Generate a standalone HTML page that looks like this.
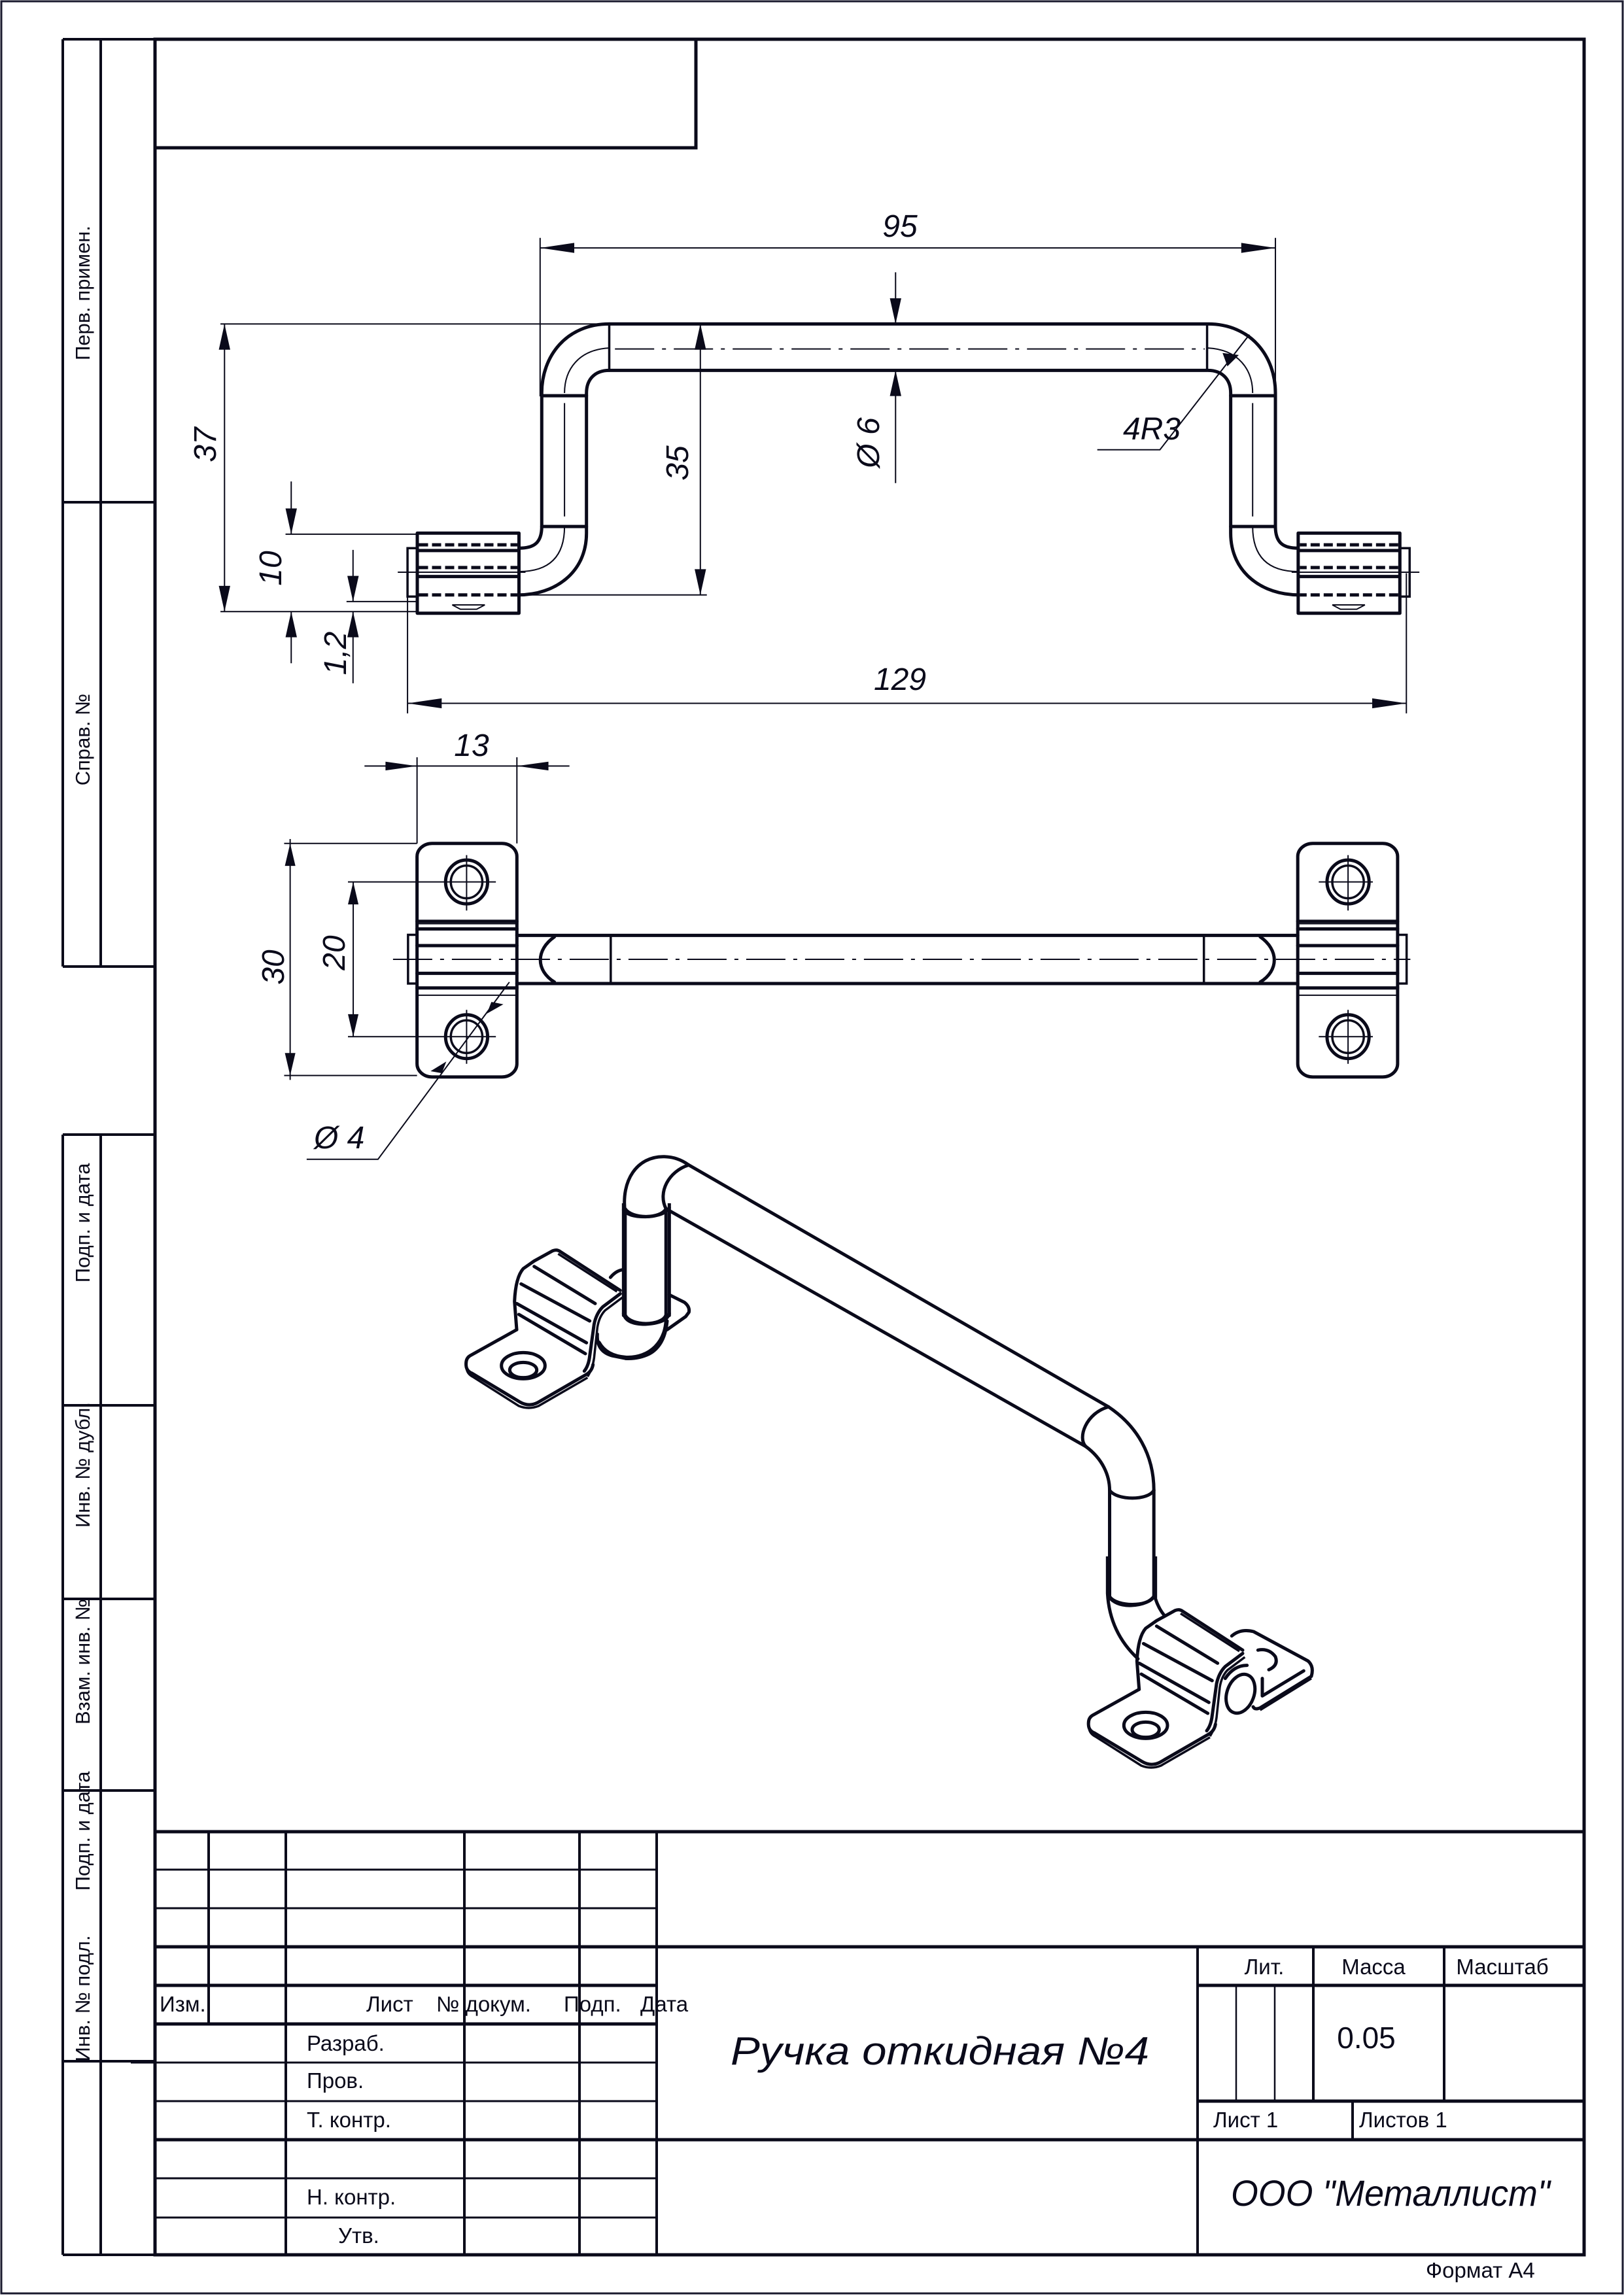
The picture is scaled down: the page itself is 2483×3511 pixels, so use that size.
<!DOCTYPE html>
<html><head><meta charset="utf-8">
<style>
html,body{margin:0;padding:0;background:#fff;}
svg{display:block;}
.k{stroke:#0a0a1a;fill:none;stroke-width:5;vector-effect:non-scaling-stroke;stroke-linecap:round;stroke-linejoin:round}
.m{stroke:#0a0a1a;fill:none;stroke-width:3.5;vector-effect:non-scaling-stroke}
.t{stroke:#0a0a1a;fill:none;stroke-width:2;vector-effect:non-scaling-stroke}
.d{stroke:#0a0a1a;fill:none;stroke-width:2;vector-effect:non-scaling-stroke;stroke-dasharray:60 12 6 12}
.kd{stroke:#0a0a1a;fill:none;stroke-width:5;vector-effect:non-scaling-stroke;stroke-dasharray:14 6}
.a{fill:#0a0a1a;stroke:none}
text{font-family:"Liberation Sans",sans-serif;fill:#0a0a1a}
.i{font-style:italic}
</style></head>
<body>
<svg width="2483" height="3511" viewBox="0 0 2483 3511" xmlns="http://www.w3.org/2000/svg">
<rect x="0" y="0" width="2483" height="3511" fill="#fff"/>
<rect x="2" y="2" width="2479" height="3505" fill="none" stroke="#1a1a2e" stroke-width="3"/>
<!-- main frame -->
<rect x="237" y="60" width="2185" height="3388" fill="none" stroke="#0a0a1a" stroke-width="5"/>
<rect x="237" y="60" width="827" height="166" fill="none" stroke="#0a0a1a" stroke-width="5"/>
<!-- left stamp -->
<g stroke="#0a0a1a" stroke-width="4" fill="none">
<path d="M96,60 H237 M96,60 V1478 M154,60 V1478 M96,768 H237 M96,1478 H237"/>
<path d="M96,1735 H237 M96,1735 V3448 M154,1735 V3448 M96,2149 H237 M96,2445 H237 M96,2738 H237 M96,3152 H237 M96,3448 H237"/>
</g>
<g font-size="31">
<text transform="translate(137,448) rotate(-90)" text-anchor="middle">Перв. примен.</text>
<text transform="translate(137,1131) rotate(-90)" text-anchor="middle">Справ. №</text>
<text transform="translate(137,1870) rotate(-90)" text-anchor="middle">Подп. и дата</text>
<text transform="translate(137,2240) rotate(-90)" text-anchor="middle">Инв. № дубл.</text>
<text transform="translate(137,2541) rotate(-90)" text-anchor="middle">Взам. инв. №</text>
<text transform="translate(137,2800) rotate(-90)" text-anchor="middle">Подп. и дата</text>
<text transform="translate(137,3056) rotate(-90)" text-anchor="middle">Инв. № подл.</text>
</g>
<!-- title block -->
<g stroke="#0a0a1a" fill="none">
<path stroke-width="5" d="M237,2801 H2422 M237,2977 H2422 M237,3272 H2422 M237,3036 H1004 M237,3095 H1004 M1831,3036 H2422 M1831,3213 H2422"/>
<path stroke-width="3" d="M237,2859 H1004 M237,2918 H1004 M237,3154 H1004 M237,3213 H1004 M237,3331 H1004 M237,3391 H1004 M200,3154 H237"/>
<path stroke-width="4" d="M319,2801 V3095 M437,2801 V3450 M710,2801 V3450 M886,2801 V3450 M1004,2801 V3450 M1831,2977 V3450 M2008,2977 V3213 M2208,2977 V3213 M2068,3213 V3272"/>
<path stroke-width="2.5" d="M1890,3036 V3213 M1949,3036 V3213"/>
</g>
<g font-size="33">
<text x="1933" y="3019" text-anchor="middle">Лит.</text>
<text x="2100" y="3019" text-anchor="middle">Масса</text>
<text x="2297" y="3019" text-anchor="middle">Масштаб</text>
<text x="244" y="3076">Изм.</text>
<text x="560" y="3076">Лист</text>
<text x="667" y="3076">№ докум.</text>
<text x="862" y="3076">Подп.</text>
<text x="979" y="3076">Дата</text>
<text x="469" y="3136">Разраб.</text>
<text x="469" y="3193">Пров.</text>
<text x="469" y="3253">Т. контр.</text>
<text x="469" y="3371">Н. контр.</text>
<text x="517" y="3430">Утв.</text>
<text x="1855" y="3253">Лист 1</text>
<text x="2078" y="3253">Листов 1</text>
<text x="2180" y="3483">Формат А4</text>
<text x="2089" y="3132" text-anchor="middle" font-size="46">0.05</text>
</g>
<text class="i" x="1117" y="3157" font-size="60" textLength="640" lengthAdjust="spacingAndGlyphs">Ручка откидная №4</text>
<text class="i" x="1882" y="3373" font-size="56" textLength="488" lengthAdjust="spacingAndGlyphs">ООО "Металлист"</text>

<!-- FRONT VIEW (zoom3 coords) -->
<svg x="250" y="300" width="1950" height="800" viewBox="0 0 1568 1568" preserveAspectRatio="none">
<defs>
<g id="fl">
<path class="k" d="M548,383 C495,383 465,480 465,590 L465,990 C465,1040 455,1055 437,1055"/>
<path class="k" d="M548,522 C530,522 520,550 520,590 L520,1010 C520,1130 480,1195 437,1195"/>
<path class="t" d="M548,455 C510,460 493,520 493,590 M493,620 L493,960 M493,990 C493,1090 470,1125 437,1125"/>
<path class="k" d="M465,598 H520 M465,990 H520"/>
<rect class="k" x="312" y="1010" width="125" height="240"/>
<rect class="m" x="300" y="1055" width="12" height="145"/>
<path class="kd" d="M314,1045 H435 M314,1113 H435 M314,1195 H435"/>
<path class="k" d="M314,1140 H435 M314,1062 H435"/>
<path class="t" d="M355,1225 L395,1225 L385,1238 L365,1238 Z"/>
<path class="t" d="M288,1127 H445"/>
</g>
</defs>
<use href="#fl"/>
<use href="#fl" transform="matrix(-1 0 0 1 1832 0)"/>
<path class="k" d="M548,383 H1283 M548,522 H1283"/>
<path class="m" d="M548,383 V522 M1283,383 V522"/>
<path class="d" d="M555,458 H1280"/>
<!-- dims -->
<path class="t" d="M463,125 V600 M1367,125 V600 M463,155 H1367"/>
<polygon class="a" points="463,155 505,140 505,170"/><polygon class="a" points="1367,155 1325,140 1325,170"/>
<path class="t" d="M70,383 H548 M70,1245 H312 M75,383 V1245"/>
<polygon class="a" points="75,383 68,460 82,460"/><polygon class="a" points="75,1245 68,1168 82,1168"/>
<path class="t" d="M440,1195 H668 M660,383 V1195"/>
<polygon class="a" points="660,383 653,460 667,460"/><polygon class="a" points="660,1195 653,1118 667,1118"/>
<path class="t" d="M150,1013 H312 M157,855 V1013 M157,1245 V1400"/>
<polygon class="a" points="157,1013 150,936 164,936"/><polygon class="a" points="157,1245 150,1322 164,1322"/>
<path class="t" d="M225,1215 H312 M233,1060 V1215 M233,1245 V1460"/>
<polygon class="a" points="233,1215 226,1138 240,1138"/><polygon class="a" points="233,1245 226,1322 240,1322"/>
<path class="t" d="M900,228 V383 M900,522 V860"/>
<polygon class="a" points="900,383 893,306 907,306"/><polygon class="a" points="900,522 893,599 907,599"/>
<path class="t" d="M1335,415 L1225,760 L1148,760"/>
<polygon class="a" points="1308,510 1302,470 1322,476"/>
<path class="t" d="M300,1200 V1550 M1528,1130 V1550 M300,1520 H1528"/>
<polygon class="a" points="300,1520 342,1505 342,1535"/><polygon class="a" points="1528,1520 1486,1505 1486,1535"/>
</svg>
<g class="i" font-size="48">
<text x="1376" y="362" text-anchor="middle">95</text>
<text x="1376" y="1055" text-anchor="middle">129</text>
<text x="1761" y="672" text-anchor="middle">4R3</text>
<text transform="translate(330,680) rotate(-90)" text-anchor="middle">37</text>
<text transform="translate(1052,708) rotate(-90)" text-anchor="middle">35</text>
<text transform="translate(1344,677) rotate(-90)" text-anchor="middle">Ø 6</text>
<text transform="translate(430,869) rotate(-90)" text-anchor="middle">10</text>
<text transform="translate(529,999) rotate(-90)" text-anchor="middle">1,2</text>
</g>

<!-- PLAN VIEW (zoom4 coords) -->
<svg x="400" y="1100" width="1800" height="700" viewBox="0 0 1568 1568" preserveAspectRatio="none">
<defs>
<g id="pl">
<rect class="k" x="207" y="425" width="133" height="800" rx="20" ry="45"/>
<ellipse class="k" cx="273" cy="557" rx="28" ry="75"/>
<ellipse class="m" cx="273" cy="557" rx="21" ry="56"/>
<path class="t" d="M240,557 H312 M273,465 V655"/>
<ellipse class="k" cx="273" cy="1087" rx="28" ry="75"/>
<ellipse class="m" cx="273" cy="1087" rx="21" ry="56"/>
<path class="t" d="M240,1087 H312 M273,995 V1180"/>
<path class="k" d="M207,692 H340 M207,718 H340 M207,775 H340 M207,870 H340 M207,920 H340"/>
<path class="t" d="M207,700 H340 M207,945 H340"/>
<rect class="m" x="195" y="738" width="12" height="167"/>
<path class="k" d="M390,745 C365,790 365,860 390,900"/>
<path class="m" d="M465,740 V905"/>
</g>
</defs>
<use href="#pl"/>
<use href="#pl" transform="matrix(-1 0 0 1 1720 0)"/>
<path class="k" d="M340,740 H1380 M340,905 H1380"/>
<path class="d" d="M175,822 H1530"/>
<!-- dims -->
<path class="t" d="M207,130 V425 M340,130 V425 M137,160 H410"/>
<polygon class="a" points="207,160 165,145 165,175"/><polygon class="a" points="340,160 382,145 382,175"/>
<path class="t" d="M30,425 H207 M30,1220 H207 M38,410 V1235"/>
<polygon class="a" points="38,425 31,502 45,502"/><polygon class="a" points="38,1220 31,1143 45,1143"/>
<path class="t" d="M115,557 H240 M115,1087 H240 M122,557 V1087"/>
<polygon class="a" points="122,557 115,634 129,634"/><polygon class="a" points="122,1087 115,1010 129,1010"/>
<path class="t" d="M330,900 L155,1507 L60,1507"/>
<polygon class="a" points="300,1008 306,968 322,976"/><polygon class="a" points="246,1172 240,1212 225,1205"/>
</svg>
<g class="i" font-size="48">
<text x="721" y="1156" text-anchor="middle">13</text>
<text transform="translate(434,1479) rotate(-90)" text-anchor="middle">30</text>
<text transform="translate(527,1457) rotate(-90)" text-anchor="middle">20</text>
<text x="480" y="1756">Ø 4</text>
</g>

<!-- ISOMETRIC (zoom5 coords) -->
<svg x="680" y="1740" width="1360" height="1000" viewBox="0 0 1568 1568" preserveAspectRatio="none">
<path class="k" d="M430,65 L1170,645 M390,170 L1130,740"/>
<path class="k" d="M318,180 C310,100 340,45 385,45 C405,45 420,55 430,65"/>
<path class="k" d="M430,65 C395,80 375,130 390,170"/>
<path class="k" d="M318,170 C330,195 380,195 390,170"/>
<path class="k" d="M318,180 L318,425 M390,180 L390,425"/>
<path class="k" d="M318,425 C328,452 382,452 390,425"/>
<path class="k" d="M390,425 C392,490 360,528 320,526 C295,524 280,510 272,490"/>
<path class="k" d="M1170,645 C1220,690 1250,760 1250,845 M1130,740 C1160,770 1172,810 1172,845"/>
<path class="k" d="M1170,645 C1130,660 1115,720 1130,740"/>
<path class="k" d="M1172,845 C1185,870 1240,870 1250,845"/>
<path class="k" d="M1172,845 L1172,1105 M1250,845 L1250,1100"/>
<path class="k" d="M1172,1100 C1185,1125 1240,1125 1250,1100"/>
</svg>
<!-- left bracket (zoom6 coords, 3x) -->
<svg x="680" y="1840" width="400" height="340" viewBox="0 0 1200 1020">
<g id="br">
<path class="k" d="M330,580 L115,700 Q95,712 98,745 Q100,770 125,780 L345,912 Q385,935 425,915 L650,785 Q675,770 680,740"/>
<path class="m" d="M100,760 Q105,785 130,797 L340,930 Q385,948 430,930 L655,800"/>
<path class="k" d="M330,580 L320,450 Q325,340 360,300 L410,265 L495,218 Q515,210 530,222 L805,400"/>
<path class="k" d="M805,415 L725,475 Q695,505 685,555 L665,700 Q660,745 640,770"/>
<path class="m" d="M815,432 L735,492 Q708,520 700,570 L685,710 Q678,760 655,795"/>
<path class="k" d="M410,290 L690,460 M350,370 L665,540 M330,460 L650,640 M340,510 L645,690"/>
<path class="m" d="M520,232 L790,405"/>
<ellipse class="k" cx="360" cy="745" rx="100" ry="60"/>
<ellipse class="k" cx="360" cy="765" rx="62" ry="35"/>
</g>
<path class="k" d="M700,600 Q695,680 770,700 L830,712"/>
<path class="k" d="M760,340 Q785,310 815,305"/>
<path class="k" d="M1030,420 L1100,455 Q1125,475 1120,500 L1105,520 L1020,580"/>
<path class="k" d="M820,0 L820,515 M1030,0 L1030,515"/>
<path class="k" d="M820,505 Q830,555 920,555 Q1020,550 1030,505"/>
<path class="k" d="M820,30 Q840,62 920,62 Q1010,58 1030,20"/>
<path class="k" d="M1020,540 Q1010,650 940,690 Q890,715 830,712"/>
</svg>
<!-- right bracket (zoom7 coords, 3x) -->
<svg x="1640" y="2380" width="400" height="340" viewBox="0 0 1200 1020">
<path class="k" d="M160,0 L160,170 Q170,350 300,470 M380,0 L380,195 Q395,240 420,270"/>
<path class="k" d="M165,185 Q200,228 270,225 Q350,220 375,180"/>
<path class="k" d="M730,365 Q770,330 830,345 L1080,480 Q1108,505 1095,550 L860,695 Q835,705 828,690"/>
<path class="m" d="M1095,560 L860,705"/>
<path class="k" d="M870,640 L870,560 M870,640 L1060,525"/>
<path class="k" d="M850,430 Q900,420 930,460 Q945,500 900,520"/>
<ellipse class="k" cx="770" cy="630" rx="62" ry="92" transform="rotate(20 770 630)"/>
<path class="k" d="M700,560 Q740,500 800,500"/>
<use href="#br" transform="translate(-25,30)"/>
</svg>
</svg>
</body></html>
